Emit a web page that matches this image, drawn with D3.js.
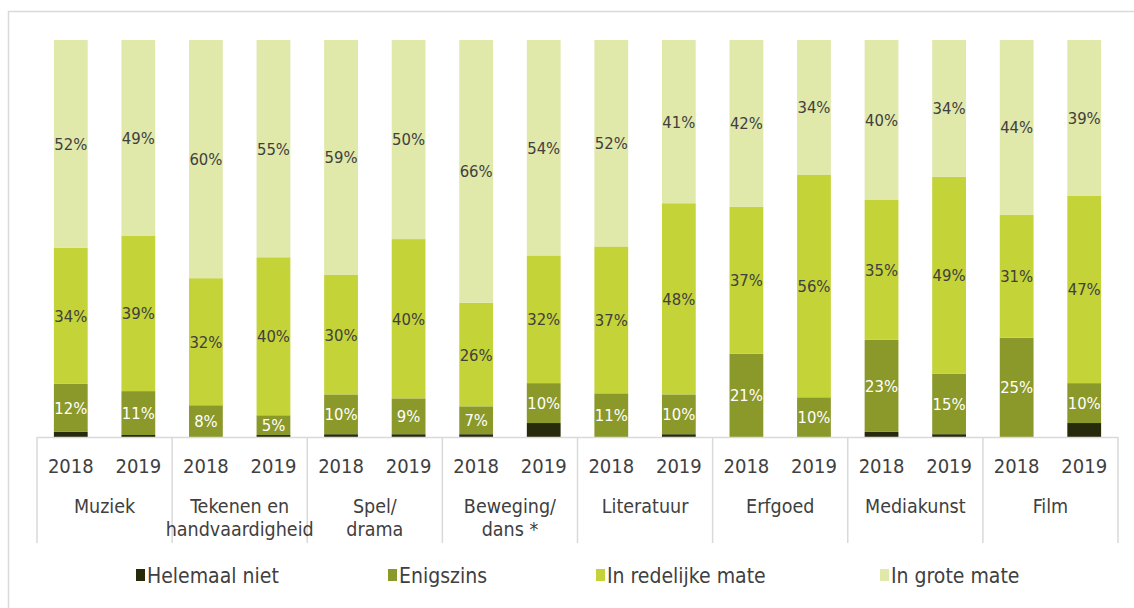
<!DOCTYPE html>
<html>
<head>
<meta charset="utf-8">
<style>
  body { margin: 0; background: #fff; }
  svg { display: block; font-family: "DejaVu Sans Condensed", "DejaVu Sans", sans-serif; }
</style>
</head>
<body>
<svg width="1134" height="608"></svg>
<script src="https://d3js.org/d3.v7.min.js"></script>
<script>

var categories = ["Muziek", "Tekenen en\nhandvaardigheid", "Spel/\ndrama", "Beweging/\ndans *",
                  "Literatuur", "Erfgoed", "Mediakunst", "Film"];
var years = ["2018", "2019"];
var seriesNames = ["Helemaal niet", "Enigszins", "In redelijke mate", "In grote mate"];

// per bar: Muziek 2018, Muziek 2019, Tekenen 2018, ...
var helemaalNiet = [1.3, 0.5, 0, 0.5, 0.7, 0.7, 0.7, 3.5, 0, 0.7, 0, 0, 1.3, 0.7, 0, 3.5];
var enigszins    = [12, 11, 8, 5, 10, 9, 7, 10, 11, 10, 21, 10, 23, 15, 25, 10];
var redelijk     = [34, 39, 32, 40, 30, 40, 26, 32, 37, 48, 37, 56, 35, 49, 31, 47];
var groteMate    = [52, 49, 60, 55, 59, 50, 66, 54, 52, 41, 42, 34, 40, 34, 44, 39];

var colors = ["#272a0b", "#8b982a", "#c4d337", "#e0e8aa"];
var labelColors = [null, "#ffffff", "#404040", "#404040"];

var svg = d3.select("svg");

var rows = [];
categories.forEach(function(c, ci) {
  years.forEach(function(yr, yi) {
    var i = ci * 2 + yi;
    rows.push({cat: c, year: yr, s0: helemaalNiet[i], s1: enigszins[i], s2: redelijk[i], s3: groteMate[i]});
  });
});

var plotLeft = 37, plotRight = 1118, plotTop = 40, plotBase = 437;

var x0 = d3.scaleBand().domain(categories).range([plotLeft, plotRight]);
var x1 = d3.scaleBand().domain(years).range([0, x0.bandwidth()]).paddingInner(0.5).paddingOuter(0.25);
var y = d3.scaleLinear().domain([0, 1]).range([plotBase, plotTop]);

var stack = d3.stack().keys(["s0", "s1", "s2", "s3"]).offset(d3.stackOffsetExpand);
var series = stack(rows);

// frame
svg.append("rect")
    .attr("x", 8.5).attr("y", 11.5)
    .attr("width", 1140).attr("height", 620)
    .attr("fill", "none").attr("stroke", "#d9d9d9").attr("stroke-width", 1.5);

var g = svg.append("g");

series.forEach(function(s, si) {
  g.selectAll(".seg" + si)
    .data(s)
    .enter().append("rect")
      .attr("x", function(d) { return x0(d.data.cat) + x1(d.data.year); })
      .attr("width", x1.bandwidth())
      .attr("y", function(d) { return y(d[1]); })
      .attr("height", function(d) { return y(d[0]) - y(d[1]); })
      .attr("fill", colors[si]);

  if (si > 0) {
    var key = "s" + si;
    g.selectAll(".lab" + si)
      .data(s)
      .enter().append("text")
        .attr("x", function(d) { return x0(d.data.cat) + x1(d.data.year) + x1.bandwidth() / 2; })
        .attr("y", function(d) { return (y(d[0]) + y(d[1])) / 2; })
        .attr("dy", "0.36em")
        .attr("text-anchor", "middle")
        .attr("font-size", 16.5)
        .attr("fill", labelColors[si])
        .text(function(d) { return Math.round(d.data[key]) + "%"; });
  }
});

// axis lines
var axis = svg.append("g").attr("stroke", "#d9d9d9").attr("stroke-width", 1.5);
axis.append("line").attr("x1", plotLeft).attr("x2", plotRight).attr("y1", plotBase + 0.5).attr("y2", plotBase + 0.5);
axis.selectAll(".sep")
  .data(categories.map(function(c) { return x0(c); }).concat([plotRight]))
  .enter().append("line")
    .attr("x1", function(d) { return d; }).attr("x2", function(d) { return d; })
    .attr("y1", plotBase).attr("y2", 543);

// year labels
rows.forEach(function(r) {
  svg.append("text")
    .attr("x", x0(r.cat) + x1(r.year) + x1.bandwidth() / 2)
    .attr("y", 473)
    .attr("text-anchor", "middle")
    .attr("font-size", 20)
    .attr("fill", "#404040")
    .text(r.year);
});

// category labels
categories.forEach(function(c) {
  var lines = c.split("\n");
  var t = svg.append("text")
    .attr("text-anchor", "middle")
    .attr("font-size", 19.5)
    .attr("fill", "#404040");
  lines.forEach(function(l, li) {
    t.append("tspan")
      .attr("x", x0(c) + x0.bandwidth() / 2)
      .attr("y", 513 + li * 23)
      .text(l);
  });
});

// legend
var legendX = [136, 388, 596, 880];
var legend = svg.selectAll(".leg")
  .data(seriesNames)
  .enter().append("g")
    .attr("transform", function(d, i) { return "translate(" + legendX[i] + ",569)"; });
legend.append("rect")
    .attr("width", 9).attr("height", 12)
    .attr("fill", function(d, i) { return colors[i]; });
legend.append("text")
    .attr("x", 11).attr("y", 14)
    .attr("font-size", 21)
    .attr("fill", "#404040")
    .text(function(d) { return d; });

</script>
</body>
</html>
